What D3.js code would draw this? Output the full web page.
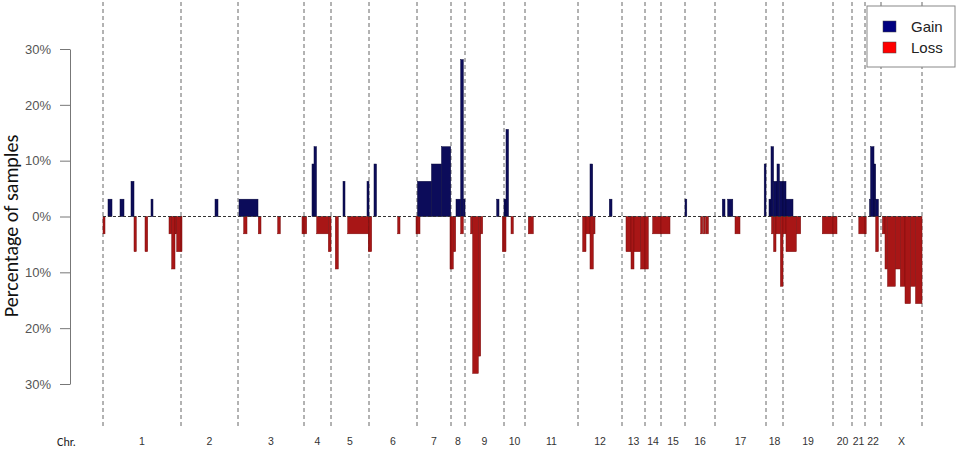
<!DOCTYPE html>
<html>
<head>
<meta charset="utf-8">
<script src="https://cdn.jsdelivr.net/npm/d3@7"></script>
<style>
  body { margin: 0; background: #fff; }
  svg { display: block; }
</style>
</head>
<body>
<svg width="962" height="454"></svg>
<script>
// Chromosomes and their widths on the genome axis (bins)
const chromosomes = ['1', '2', '3', '4', '5', '6', '7', '8', '9', '10', '11', '12',
  '13', '14', '15', '16', '17', '18', '19', '20', '21', '22', 'X'];
const chromLengths = [78, 57, 66, 27, 38, 48, 34, 14, 39, 21, 53, 44,
  23, 16, 24, 30, 51, 17, 50, 19, 13, 16, 41];

// Segments: [chromosome, start bin, end bin, % of samples]
const gainSegments = [
  ['1', 5, 9, 3.1], ['1', 17, 21, 3.1], ['1', 28, 31, 6.3], ['1', 48, 50, 3.1],
  ['2', 34, 37, 3.1],
  ['3', 1, 20, 3.1],
  ['4', 8, 10, 9.4], ['4', 10, 12.5, 12.5],
  ['5', 12, 14, 6.3], ['5', 36, 38, 6.3],
  ['6', 5, 7.5, 9.4],
  ['7', 0.5, 14.5, 6.3], ['7', 14.5, 24.5, 9.4], ['7', 24.5, 33.7, 12.5],
  ['8', 5, 9.7, 3.1], ['8', 9.7, 12.3, 28.1], ['8', 12.3, 14, 3.1],
  ['9', 31.7, 34, 3.1],
  ['10', 0, 2, 3.1], ['10', 2, 4.5, 15.6],
  ['12', 12, 14.7, 9.4], ['12', 31.3, 34, 3.1],
  ['16', 0, 1.8, 3.1],
  ['17', 7.3, 10, 3.1], ['17', 12.7, 17.8, 3.1], ['17', 49.2, 51, 9.4],
  ['18', 3, 5, 3.1], ['18', 5, 7.6, 12.5], ['18', 7.6, 11, 6.3],
  ['18', 11, 13.4, 9.4], ['18', 13.4, 17, 6.3],
  ['19', 0, 3, 6.3], ['19', 3, 10, 3.1],
  ['22', 4.5, 5.6, 3.1], ['22', 5.6, 9, 12.5], ['22', 9, 10.7, 9.4], ['22', 10.7, 13.4, 3.1]
];

const lossSegments = [
  ['1', 0, 2, 3.1], ['1', 31, 33.3, 6.3], ['1', 42, 44.7, 6.3],
  ['1', 66, 68.7, 3.1], ['1', 68.7, 72, 9.4], ['1', 72, 73.7, 3.1], ['1', 73.7, 78, 6.3],
  ['2', 0, 1, 6.3],
  ['3', 5.7, 9, 3.1], ['3', 20.3, 23, 3.1], ['3', 39.7, 42.3, 3.1], ['3', 64, 66, 3.1],
  ['4', 0, 2.7, 3.1], ['4', 12.7, 24.3, 3.1], ['4', 24.3, 27, 6.3],
  ['5', 4.3, 7.3, 9.4], ['5', 16.7, 37.3, 3.1], ['5', 37.3, 38, 6.3],
  ['6', 0, 2.7, 6.3], ['6', 28.7, 31, 3.1], ['6', 47, 48, 3.1],
  ['7', 0, 3, 3.1], ['7', 33, 34, 9.4],
  ['8', 0, 2.3, 9.4], ['8', 2.3, 4.7, 6.3], ['8', 9.7, 12.3, 3.1],
  ['9', 5.7, 7.7, 3.1], ['9', 7.7, 13.3, 28.1], ['9', 13.3, 15.7, 25], ['9', 15.7, 17.7, 3.1],
  ['9', 37.3, 39, 6.3],
  ['10', 0, 2, 6.3], ['10', 7, 9.3, 3.1],
  ['11', 3.3, 8.3, 3.1],
  ['12', 4.7, 8, 6.3], ['12', 8, 12, 3.1], ['12', 12, 15.3, 9.4], ['12', 15.3, 17, 3.1],
  ['13', 4, 9, 6.3], ['13', 9, 12, 9.4], ['13', 12, 18.7, 6.3], ['13', 18.7, 23, 9.4],
  ['14', 0, 3.3, 9.4], ['14', 7.7, 16, 3.1],
  ['15', 0, 9, 3.1],
  ['16', 15.7, 17.7, 3.1], ['16', 18.4, 20.4, 3.1], ['16', 21, 23.4, 3.1],
  ['17', 20, 25, 3.1],
  ['18', 5.6, 7.6, 3.1], ['18', 7.6, 10, 6.3], ['18', 10, 14.4, 3.1], ['18', 14.4, 17, 12.5],
  ['19', 0, 3, 3.1], ['19', 3, 13.3, 6.3], ['19', 13.3, 17.7, 3.1], ['19', 39.3, 50, 3.1],
  ['20', 0, 4, 3.1],
  ['21', 6.8, 13, 3.1],
  ['22', 0, 1.2, 3.1], ['22', 10.7, 13.4, 6.3],
  ['X', 1.4, 4, 3.1], ['X', 4, 6.5, 9.4], ['X', 6.5, 14.3, 12.5], ['X', 14.3, 19.3, 9.4],
  ['X', 19.3, 24, 12.5], ['X', 24, 29.5, 15.6], ['X', 29.5, 34.5, 12.5], ['X', 34.5, 41, 15.6]
];

const yTicks = [-30, -20, -10, 0, 10, 20, 30];
const legendItems = ['Gain', 'Loss'];

const svg = d3.select('svg');

// Chromosome offsets along the genome
const chromStarts = [0, ...d3.cumsum(chromLengths)];
const offset = {};
chromosomes.forEach((c, i) => { offset[c] = chromStarts[i]; });
const genomeLength = chromStarts[chromStarts.length - 1];

const x = d3.scaleLinear().domain([0, genomeLength]).range([103, 922]);
const y = d3.scaleLinear().domain([-30, 30]).range([384, 49]);

// Chromosome boundaries (dashed)
svg.append('g')
  .selectAll('line')
  .data(chromStarts)
  .join('line')
    .attr('x1', d => x(d)).attr('x2', d => x(d))
    .attr('y1', 2).attr('y2', 428)
    .attr('stroke', '#666')
    .attr('stroke-width', 1)
    .attr('stroke-dasharray', '4,3');

// Gain bars
svg.append('g')
  .selectAll('rect')
  .data(gainSegments)
  .join('rect')
    .attr('x', d => x(offset[d[0]] + d[1]))
    .attr('width', d => x(offset[d[0]] + d[2]) - x(offset[d[0]] + d[1]))
    .attr('y', d => y(d[3]))
    .attr('height', d => y(0) - y(d[3]))
    .attr('fill', '#0c0c5a')
    .attr('stroke', '#06063a')
    .attr('stroke-width', 0.5);

// Loss bars
svg.append('g')
  .selectAll('rect')
  .data(lossSegments)
  .join('rect')
    .attr('x', d => x(offset[d[0]] + d[1]))
    .attr('width', d => x(offset[d[0]] + d[2]) - x(offset[d[0]] + d[1]))
    .attr('y', y(0))
    .attr('height', d => y(-d[3]) - y(0))
    .attr('fill', '#a81616')
    .attr('stroke', '#7a0c0c')
    .attr('stroke-width', 0.5);

// Zero line
svg.append('line')
  .attr('x1', x(0)).attr('x2', x(genomeLength))
  .attr('y1', y(0)).attr('y2', y(0))
  .attr('stroke', '#333')
  .attr('stroke-width', 1.2)
  .attr('stroke-dasharray', '3,2');

// Y axis
const yAxisG = svg.append('g')
  .attr('transform', 'translate(70,0)')
  .call(d3.axisLeft(y)
    .tickValues(yTicks)
    .tickFormat(d => Math.abs(d) + '%')
    .tickSize(10)
    .tickSizeOuter(0)
    .tickPadding(9))
  .attr('font-size', 13)
  .attr('font-family', 'Liberation Sans, Arial, sans-serif');
yAxisG.select('.domain').attr('stroke', '#777');
yAxisG.selectAll('.tick line').attr('stroke', '#777');
yAxisG.selectAll('.tick text').attr('fill', '#555');

// Y title
svg.append('text')
  .attr('transform', 'translate(18,226) rotate(-90)')
  .attr('text-anchor', 'middle')
  .attr('font-family', 'Carlito, Liberation Sans, sans-serif')
  .attr('font-size', 20)
  .attr('fill', '#111')
  .text('Percentage of samples');

// Chromosome labels
svg.append('g')
  .selectAll('text')
  .data(chromosomes)
  .join('text')
    .attr('x', (d, i) => x(chromStarts[i] + chromLengths[i] / 2))
    .attr('y', 445)
    .attr('text-anchor', 'middle')
    .attr('font-family', 'Liberation Sans Narrow, Liberation Sans, sans-serif')
    .attr('font-size', 10.5)
    .attr('fill', '#333')
    .text(d => d);

svg.append('text')
  .attr('x', 57).attr('y', 446)
  .attr('font-family', 'Carlito, Liberation Sans, sans-serif')
  .attr('font-size', 12)
  .attr('fill', '#222')
  .text('Chr.');

// Legend
const legendG = svg.append('g').attr('transform', 'translate(867,6)');
legendG.append('rect')
  .attr('width', 88).attr('height', 61)
  .attr('fill', '#fff')
  .attr('stroke', '#888');
const legendColors = d3.scaleOrdinal().domain(legendItems).range(['#000080', '#ff0000']);
const legendRow = legendG.selectAll('g')
  .data(legendItems)
  .join('g')
    .attr('transform', (d, i) => `translate(16,${15 + i * 21})`);
legendRow.append('rect')
  .attr('width', 13).attr('height', 11)
  .attr('fill', d => legendColors(d))
  .attr('stroke', '#444')
  .attr('stroke-width', 0.5);
legendRow.append('text')
  .attr('x', 28).attr('y', 11)
  .attr('font-family', 'Liberation Sans, Arial, sans-serif')
  .attr('font-size', 15)
  .attr('fill', '#222')
  .text(d => d);
</script>
</body>
</html>
